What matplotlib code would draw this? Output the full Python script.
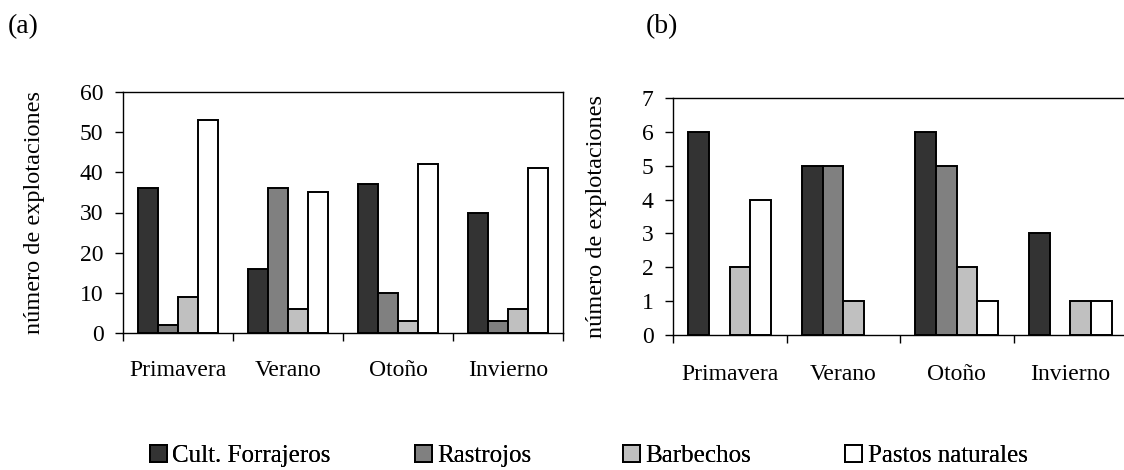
import matplotlib
matplotlib.use("Agg")
import matplotlib.pyplot as plt
import numpy as np

plt.rcParams['font.family'] = ['Liberation Serif', 'DejaVu Serif']

seasons = ["Primavera", "Verano", "Otoño", "Invierno"]
series = ["Cult. Forrajeros", "Rastrojos", "Barbechos", "Pastos naturales"]
colors = ["#333333", "#808080", "#c0c0c0", "#ffffff"]

# (a)
a_cult = [36, 16, 37, 30]
a_rast = [2, 36, 10, 3]
a_barb = [9, 6, 3, 6]
a_past = [53, 35, 42, 41]
# (b)
b_cult = [6, 5, 6, 3]
b_rast = [0, 5, 5, 0]
b_barb = [2, 1, 2, 1]
b_past = [4, 0, 1, 1]

a_ticks = [0, 10, 20, 30, 40, 50, 60]
b_ticks = [0, 1, 2, 3, 4, 5, 6, 7]

W, H = 1124, 470
fig = plt.figure(figsize=(W / 100, H / 100), dpi=100)

def px_axes(x0, y0, x1, y1):
    return fig.add_axes([x0 / W, 1 - y1 / H, (x1 - x0) / W, (y1 - y0) / H])

ax1 = px_axes(123, 92, 563, 333)
ax2 = px_axes(673, 98, 1127, 335)

FS_TICK = 17
FS_LAB = 17.5
FS_LEG = 18
bw = 1 / 5.5

def draw(ax, data, ticks, cat_pad, ylab_x):
    x = np.arange(len(seasons))
    handles = []
    for i, (vals, c, name) in enumerate(zip(data, colors, series)):
        off = (i - 1.5) * bw
        v = np.array(vals, dtype=float)
        v[v == 0] = np.nan  # zero values are not drawn
        h = ax.bar(x + off, v, width=bw, color=c, edgecolor="black",
                   linewidth=1.4, label=name, zorder=3)
        handles.append(h)
    ax.set_xlim(-0.5, len(seasons) - 0.5)
    ax.set_ylim(ticks[0], ticks[-1])
    ax.set_yticks(ticks)
    ax.set_yticklabels([str(t) for t in ticks], fontsize=FS_TICK)
    ax.set_xticks(np.arange(len(seasons) + 1) - 0.5)
    ax.set_xticklabels([])
    ax.set_xticks(x, minor=True)
    ax.set_xticklabels(seasons, minor=True, fontsize=FS_TICK)
    ax.tick_params(axis='x', which='minor', length=0, pad=cat_pad)
    ax.tick_params(axis='x', which='major', direction='out', length=6, width=1)
    ax.tick_params(axis='y', direction='out', length=6, width=1, pad=8)
    for s in ax.spines.values():
        s.set_linewidth(1)
        s.set_color("black")
    ax.set_ylabel("número de explotaciones", fontsize=FS_LAB)
    ax.yaxis.set_label_coords(ylab_x, 0.5)
    return handles

handles = draw(ax1, [a_cult, a_rast, a_barb, a_past], a_ticks, 19.5, (45 - 123) / 440)
draw(ax2, [b_cult, b_rast, b_barb, b_past], b_ticks, 21, (607 - 673) / 454)

fig.text(8 / W, 1 - 27 / H, "(a)", fontsize=20, va='center', ha='left')
fig.text(646 / W, 1 - 27 / H, "(b)", fontsize=20, va='center', ha='left')

leg_x = [150, 415, 623, 845]
for hx, h, name in zip(leg_x, handles, series):
    lg = fig.legend([h], [name], loc='center left', bbox_to_anchor=(hx / W, 1 - 456 / H),
                    frameon=False, fontsize=FS_LEG, handlelength=0.68, handleheight=0.68,
                    handletextpad=0.22, borderpad=0, borderaxespad=0)
    fig.add_artist(lg)

fig.savefig("out.png", dpi=100)
